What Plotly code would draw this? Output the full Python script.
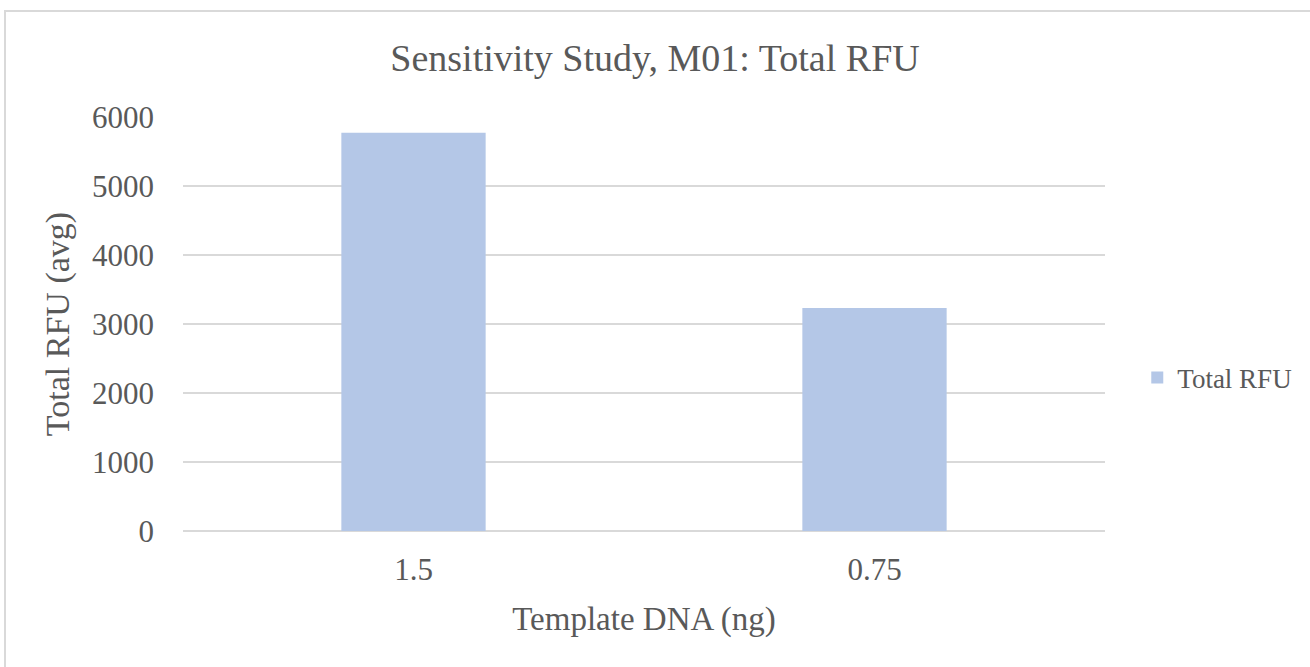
import plotly.graph_objects as go

categories = ["1.5", "0.75"]
total_rfu = [5772, 3232]
y_ticks = [0, 1000, 2000, 3000, 4000, 5000, 6000]

FONT = "Liberation Serif"
GREY = "#595959"
GRID = "#d9d9d9"

fig = go.Figure()
fig.add_trace(go.Bar(x=categories, y=total_rfu, name="Total RFU",
                     marker=dict(color="#b4c7e7", line=dict(width=0))))

fig.update_layout(
    width=1310, height=667,
    margin=dict(l=183, r=205, t=117, b=136),
    paper_bgcolor="white", plot_bgcolor="white",
    font=dict(family=FONT, color=GREY),
    title=dict(text="Sensitivity Study, M01: Total RFU", x=0.5, xanchor="center",
               y=1 - 58 / 667, yanchor="middle", font=dict(size=38, color=GREY)),
    bargap=0.687,
    showlegend=True,
    legend=dict(x=1.035, y=(531 - 378) / 414, xanchor="left", yanchor="middle",
                font=dict(size=27, color=GREY), bgcolor="rgba(0,0,0,0)",
                itemwidth=30),
    xaxis=dict(type="category", showgrid=False, showline=False, zeroline=False,
               ticks="", tickfont=dict(size=31, color=GREY), ticklabelstandoff=17,
               title=dict(text="Template DNA (ng)", font=dict(size=33, color=GREY), standoff=20)),
    yaxis=dict(range=[0, 6000], tickvals=y_ticks, showgrid=True, gridcolor=GRID, gridwidth=2,
               zeroline=True, zerolinecolor=GRID, zerolinewidth=2, showline=False,
               ticks="", tickfont=dict(size=31, color=GREY), ticklabelstandoff=28,
               title=dict(text="Total RFU (avg)", font=dict(size=34, color=GREY), standoff=12)),
    shapes=[dict(type="rect", xref="paper", yref="paper",
                 x0=(5 - 183) / 922, x1=1.4, y0=-0.6, y1=(531 - 11) / 414,
                 line=dict(color=GRID, width=2), fillcolor="rgba(0,0,0,0)", layer="below")],
)

fig.write_html("out.html")
